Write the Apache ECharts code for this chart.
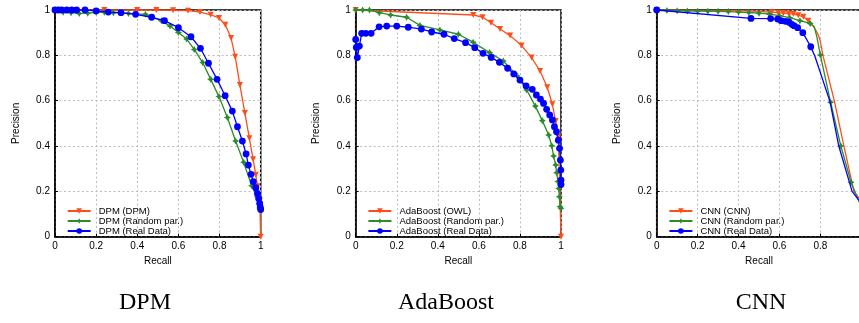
<!DOCTYPE html>
<html>
<head>
<meta charset="utf-8">
<script src="https://cdn.jsdelivr.net/npm/echarts@6/dist/echarts.min.js"></script>
<style>
  html, body { margin: 0; padding: 0; background: #fff; }
  #chart { width: 859px; height: 323px; }
</style>
</head>
<body>
<div id="chart"></div>
<script>
// Precision-recall curves, points are [recall, precision].

// DPM
const dpmDpm = [[0,1],[0.09,1],[0.24,1],[0.4,1],[0.493,1],[0.574,0.999],[0.647,0.997],[0.705,0.991],[0.757,0.979],[0.797,0.965],[0.828,0.935],[0.856,0.876],[0.876,0.794],[0.899,0.669],[0.923,0.546],[0.945,0.434],[0.963,0.342],[0.976,0.273],[0.985,0.222],[0.996,0.16],[1,0]];
const dpmRandom = [[0,1],[0.04,0.99],[0.078,0.988],[0.118,0.985],[0.159,0.986],[0.2,0.99],[0.24,0.99],[0.284,0.988],[0.357,0.985],[0.44,0.981],[0.517,0.953],[0.559,0.929],[0.6,0.901],[0.64,0.872],[0.677,0.826],[0.718,0.768],[0.757,0.694],[0.797,0.618],[0.838,0.526],[0.878,0.422],[0.917,0.328],[0.956,0.225],[0.984,0.176],[0.997,0.125]];
const dpmReal = [[0,1],[0.016,1],[0.032,1],[0.057,1],[0.081,1],[0.105,1],[0.146,1],[0.2,0.996],[0.259,0.991],[0.321,0.988],[0.392,0.981],[0.47,0.968],[0.532,0.953],[0.6,0.922],[0.661,0.882],[0.707,0.831],[0.746,0.765],[0.788,0.694],[0.827,0.622],[0.862,0.554],[0.887,0.485],[0.911,0.422],[0.929,0.365],[0.94,0.316],[0.953,0.275],[0.964,0.243],[0.976,0.216],[0.984,0.191],[0.99,0.169],[0.995,0.147],[0.998,0.13],[1,0.12]];

// AdaBoost
const adaOwl = [[0,1],[0.573,0.978],[0.618,0.968],[0.659,0.944],[0.703,0.916],[0.752,0.887],[0.808,0.843],[0.857,0.79],[0.898,0.731],[0.933,0.659],[0.958,0.584],[0.974,0.51],[0.987,0.441],[1,0]];
const adaRandom = [[0,1],[0.034,1],[0.067,1],[0.115,0.988],[0.17,0.978],[0.248,0.968],[0.313,0.932],[0.41,0.912],[0.5,0.893],[0.572,0.858],[0.652,0.812],[0.719,0.775],[0.787,0.709],[0.833,0.647],[0.875,0.576],[0.909,0.512],[0.94,0.449],[0.955,0.401],[0.964,0.356],[0.974,0.316],[0.979,0.282],[0.985,0.243],[0.989,0.213],[0.992,0.176],[0.995,0.132],[1,0.125]];
const adaReal = [[0,0.87],[0.003,0.835],[0.008,0.79],[0.018,0.841],[0.029,0.897],[0.049,0.897],[0.075,0.897],[0.114,0.926],[0.151,0.929],[0.2,0.929],[0.256,0.924],[0.32,0.916],[0.37,0.903],[0.43,0.893],[0.48,0.874],[0.535,0.856],[0.58,0.834],[0.62,0.809],[0.66,0.791],[0.7,0.769],[0.74,0.743],[0.77,0.718],[0.8,0.691],[0.83,0.665],[0.86,0.65],[0.88,0.625],[0.9,0.607],[0.915,0.588],[0.93,0.562],[0.945,0.537],[0.958,0.515],[0.968,0.485],[0.978,0.463],[0.987,0.426],[0.993,0.39],[0.997,0.338],[0.999,0.294],[1,0.25],[1,0.23]];

// CNN: sampled points carry a marker, the rest are plain curve vertices
const cnnCnnMarks = [[0,1],[0.562,0.99],[0.594,0.988],[0.619,0.986],[0.645,0.984],[0.668,0.982],[0.692,0.977],[0.717,0.97],[0.741,0.953]];
const cnnCnnPlain = [[0.2,0.998],[0.4,0.997],[0.5,0.994],[0.76,0.935],[0.778,0.91],[0.79,0.89],[0.798,0.868],[0.814,0.794],[0.868,0.6],[0.915,0.4],[0.964,0.2],[0.989,0.17],[1,0.16]];
const cnnRandomMarks = [[0,1],[0.05,0.998],[0.1,0.997],[0.15,0.996],[0.2,0.995],[0.25,0.995],[0.3,0.994],[0.35,0.993],[0.4,0.991],[0.45,0.989],[0.5,0.986],[0.55,0.982],[0.6,0.975],[0.65,0.966],[0.7,0.953],[0.75,0.941],[0.8,0.801],[0.85,0.593],[0.9,0.4],[0.95,0.24]];
const cnnRandomPlain = [[0.77,0.926],[0.782,0.885],[0.989,0.154],[1,0.14]];
const cnnRealMarks = [[0,1],[0.461,0.963],[0.557,0.962],[0.591,0.96],[0.608,0.953],[0.629,0.95],[0.647,0.946],[0.66,0.937],[0.671,0.931],[0.689,0.922],[0.714,0.9],[0.753,0.838]];
const cnnRealPlain = [[0.774,0.794],[0.847,0.596],[0.89,0.4],[0.955,0.2],[0.985,0.165],[1,0.15]];

const titles = ['DPM', 'AdaBoost', 'CNN'];
const seriesNames = [
  ['DPM (DPM)', 'DPM (Random par.)', 'DPM (Real Data)'],
  ['AdaBoost (OWL)', 'AdaBoost (Random par.)', 'AdaBoost (Real Data)'],
  ['CNN (CNN)', 'CNN (Random par.)', 'CNN (Real Data)']
];
const tickValues = [0, 0.2, 0.4, 0.6, 0.8, 1];

// merge marked samples with plain vertices, ordered by recall
function withMarks(marks, plain) {
  return marks.map(p => ({ p, m: true }))
    .concat(plain.map(p => ({ p, m: false })))
    .sort((a, b) => a.p[0] - b.p[0])
    .map(o => o.m ? [o.p[0], o.p[1]] : { value: [o.p[0], o.p[1]], symbol: 'none' });
}

const curves = [
  [dpmDpm, dpmRandom, dpmReal],
  [adaOwl, adaRandom, adaReal],
  [withMarks(cnnCnnMarks, cnnCnnPlain), withMarks(cnnRandomMarks, cnnRandomPlain), withMarks(cnnRealMarks, cnnRealPlain)]
];

const SANS = '"Liberation Sans", Arial, sans-serif';
const SERIF = '"Liberation Serif", "Times New Roman", serif';
const styles = [
  { color: '#ff4d1a', symbol: 'path://M0,0 L10,0 L5,9 Z', size: 6 },
  { color: '#2a8c2a', symbol: 'path://M5,0 L6.8,3.2 L10,5 L6.8,6.8 L5,10 L3.2,6.8 L0,5 L3.2,3.2 Z', size: 7 },
  { color: '#0000ff', symbol: 'circle', size: 6.8 }
];

const layout = [
  { left: 55, width: 205.7, titleX: 145 },
  { left: 355.7, width: 205.3, titleX: 446 },
  { left: 656.7, width: 204.6, titleX: 761 }
];
const plotTop = 10, plotHeight = 226.7;

const grid = [], xAxis = [], yAxis = [], legend = [], series = [], graphic = [];
layout.forEach((L, i) => {
  grid.push({
    left: L.left, top: plotTop, width: L.width, height: plotHeight,
    show: true, borderColor: '#000', borderWidth: 1.5,
    containLabel: false, outerBoundsMode: 'none'
  });
  const common = {
    type: 'value', gridIndex: i, min: 0, max: 1, interval: 0.2,
    nameLocation: 'middle',
    nameTextStyle: { fontSize: 10, color: '#000', fontFamily: SANS },
    axisLine: { show: true, onZero: false, lineStyle: { color: '#000', width: 1.5 } },
    axisTick: { show: true, inside: true, length: 3, lineStyle: { color: '#000', width: 1 } },
    axisLabel: { fontSize: 10, color: '#000', fontFamily: SANS, margin: 5,
      formatter: v => tickValues.includes(+v.toFixed(2)) ? String(+v.toFixed(2)) : '' },
    splitLine: { show: true, lineStyle: { color: '#bdbdbd', width: 1, type: [2, 2.5] } }
  };
  xAxis.push(Object.assign({}, common, { name: 'Recall', nameGap: 18 }));
  yAxis.push(Object.assign({}, common, { name: 'Precision', nameGap: 34 }));
  legend.push({
    orient: 'vertical', left: L.left + 11.7, top: 206, padding: 0, itemGap: 0,
    itemWidth: 23, itemHeight: 7, selectedMode: false,
    data: seriesNames[i],
    textStyle: { fontSize: 9.5, color: '#000', fontFamily: SANS, padding: [0, 0, 0, 3] }
  });
  seriesNames[i].forEach((name, k) => {
    const s = styles[k];
    series.push({
      type: 'line', name, xAxisIndex: i, yAxisIndex: i,
      data: curves[i][k],
      symbol: s.symbol, symbolSize: s.size, showAllSymbol: true,
      lineStyle: { color: s.color, width: 1.3 },
      itemStyle: { color: s.color },
      emphasis: { disabled: true },
      z: 2 + k, animation: false
    });
  });
  graphic.push({
    type: 'text', x: L.titleX, y: 303,
    style: { text: titles[i], fontSize: 24, fontFamily: SERIF, fill: '#000', align: 'center', verticalAlign: 'middle' }
  });
});

const chart = echarts.init(document.getElementById('chart'), null, { renderer: 'canvas' });
chart.setOption({ animation: false, backgroundColor: '#fff', grid, xAxis, yAxis, legend, series, graphic });
</script>
</body>
</html>
